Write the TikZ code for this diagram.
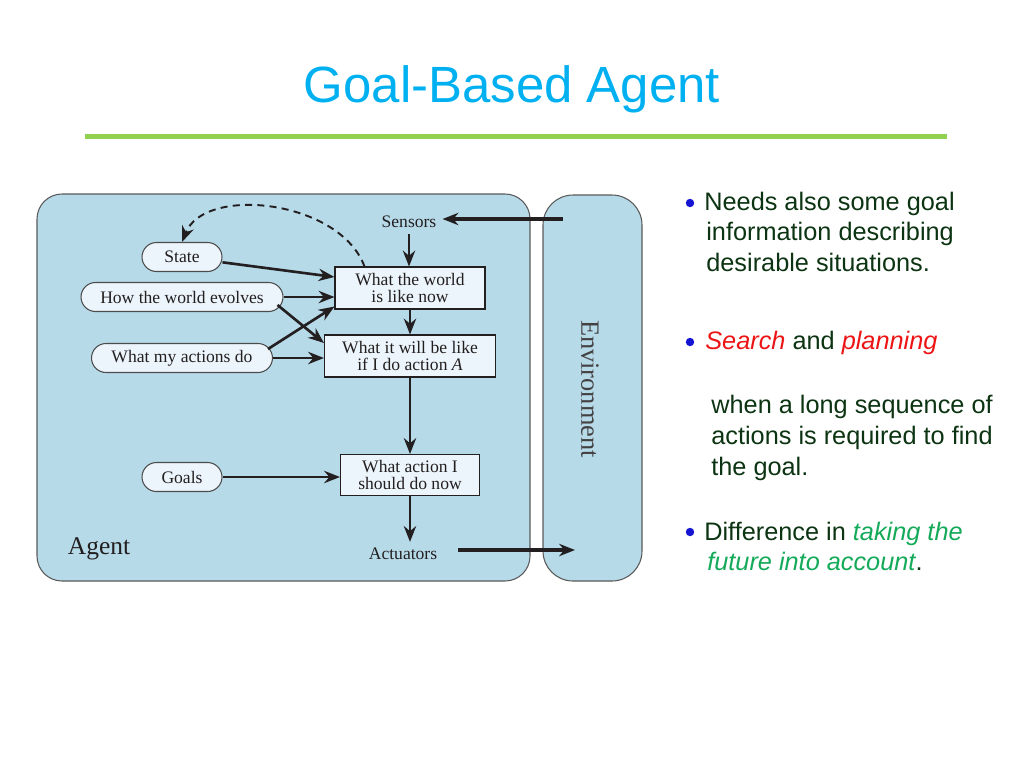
\documentclass[tikz,border=0pt]{standalone}
\usepackage{fontspec}
\setmainfont{Liberation Serif}
\newfontfamily\slidefont{Liberation Sans}
\usetikzlibrary{arrows.meta}
\definecolor{agentblue}{RGB}{183,218,233}
\definecolor{boxblue}{RGB}{236,245,251}
\definecolor{titleblue}{RGB}{0,176,240}
\definecolor{rulegreen}{RGB}{146,208,80}
\definecolor{textgreen}{RGB}{12,52,18}
\definecolor{keyred}{RGB}{236,20,20}
\definecolor{keygreen}{RGB}{20,170,90}
\definecolor{dotblue}{RGB}{20,20,210}
\definecolor{ink}{RGB}{35,31,32}
\begin{document}
\begin{tikzpicture}[x=0.02cm,y=-0.02cm,>={Stealth[length=9pt,width=7pt]},
		frame/.style={draw=black!65,line width=0.6pt,fill=agentblue},
		label/.style={text=ink,font=\fontsize{10}{10}\selectfont},
		box/.style={draw=ink,line width=0.6pt,fill=boxblue,inner sep=0pt,align=center,text=ink,font=\fontsize{10}{10}\selectfont},
		pill/.style={draw=black!70,line width=0.6pt,fill=boxblue,rounded corners=0.29cm,minimum height=0.58cm,inner sep=0pt,text=ink,font=\fontsize{10}{10}\selectfont},
		arr/.style={->,line width=1.5pt,ink},
		bigarr/.style={->,line width=2.2pt,ink},
		txt/.style={font=\slidefont\fontsize{14.4}{17}\selectfont,text=textgreen,anchor=base west,inner sep=0pt}]
	\useasboundingbox (0,0) rectangle (1024,768);
	%Title
	\node[font=\slidefont\fontsize{29}{30}\selectfont,text=titleblue,anchor=base] (title) at (512,102) {Goal-Based Agent};
	\draw[rulegreen,line width=2.8pt] (85,136.5) -- (947,136.5);
	%Agent, Environment
	\draw[frame,rounded corners=0.5cm] (37,194) rectangle (530,581);
	\draw[frame,rounded corners=0.6cm] (543,195) rectangle (642,581);
	\node[text=ink,font=\fontsize{14.5}{15}\selectfont] (agent) at (99,549) {Agent};
	\node[text=ink!85,font=\fontsize{15}{16}\selectfont,rotate=-90] (env) at (590,389) {Environment};
	\coordinate (envin) at (563,219);
	\coordinate (envout) at (575,550);
	%Khung giua
	\node[label] (sensors) at (409,222) {Sensors};
	\node[box,minimum width=3cm,minimum height=0.84cm] (wnow) at (410,288) {What the world\\is like now};
	\node[box,minimum width=3.42cm,minimum height=0.84cm] (wbe) at (410,356) {What it will be like\\if I do action \textit{A}};
	\node[box,minimum width=2.78cm,minimum height=0.82cm] (act) at (410,475) {What action I\\should do now};
	\node[label] (actuators) at (403,554) {Actuators};
	%Khung trai
	\node[pill,minimum width=1.6cm] (state) at (182,257) {State};
	\node[pill,minimum width=4.04cm] (evolves) at (182,297) {How the world evolves};
	\node[pill,minimum width=3.62cm] (actions) at (182,358) {What my actions do};
	\node[pill,minimum width=1.6cm] (goals) at (182,477) {Goals};
	%Mui ten
	\draw[bigarr] (envin) -- (envin -| sensors.east);
	\draw[bigarr] ([xshift=0.3cm]envout -| actuators.east) -- (envout);
	\draw[arr] (sensors) -- (sensors |- wnow.north);
	\draw[arr] (wnow) -- (wbe);
	\draw[arr] (wbe) -- (act);
	\draw[arr] (act) -- (act |- actuators.north);
	\draw[arr] (state) -- ([yshift=0.22cm]wnow.west);
	\draw[arr] (evolves.east) -- (evolves.east -| wnow.west);
	\draw[arr] ([xshift=-0.12cm,yshift=-0.16cm]evolves.east) -- ([yshift=0.26cm]wbe.west);
	\draw[arr] ([xshift=-0.1cm,yshift=0.18cm]actions.east) -- ([yshift=0.06cm]wnow.south west);
	\draw[arr] (actions.east) -- (actions.east -| wbe.west);
	\draw[arr] (goals.east) -- (goals.east -| act.west);
	\draw[->,ink,line width=1.1pt,dash pattern=on 4pt off 3pt] ([xshift=0.6cm]wnow.north west) .. controls (340,200) and (205,185) .. (state.north);
	%Van ban
	\fill[dotblue] (690,203) circle[radius=2.4pt];
	\fill[dotblue] (690,342) circle[radius=2.4pt];
	\fill[dotblue] (690,532) circle[radius=2.4pt];
	\node[txt] (n1) at (704,210) {Needs also some goal};
	\node[txt] (n2) at (706,240.5) {information describing};
	\node[txt] (n3) at (706,271) {desirable situations.};
	\node[txt] (s1) at (705,349) {\textcolor{keyred}{\itshape Search} and \textcolor{keyred}{\itshape planning}};
	\node[txt] (s2) at (711,413) {when a long sequence of};
	\node[txt] (s3) at (711,444) {actions is required to find};
	\node[txt] (s4) at (711,475) {the goal.};
	\node[txt] (d1) at (704,540) {Difference in \textcolor{keygreen}{\itshape taking the}};
	\node[txt] (d2) at (707,570) {\textcolor{keygreen}{\itshape future into account}.};
\end{tikzpicture}
\end{document}
